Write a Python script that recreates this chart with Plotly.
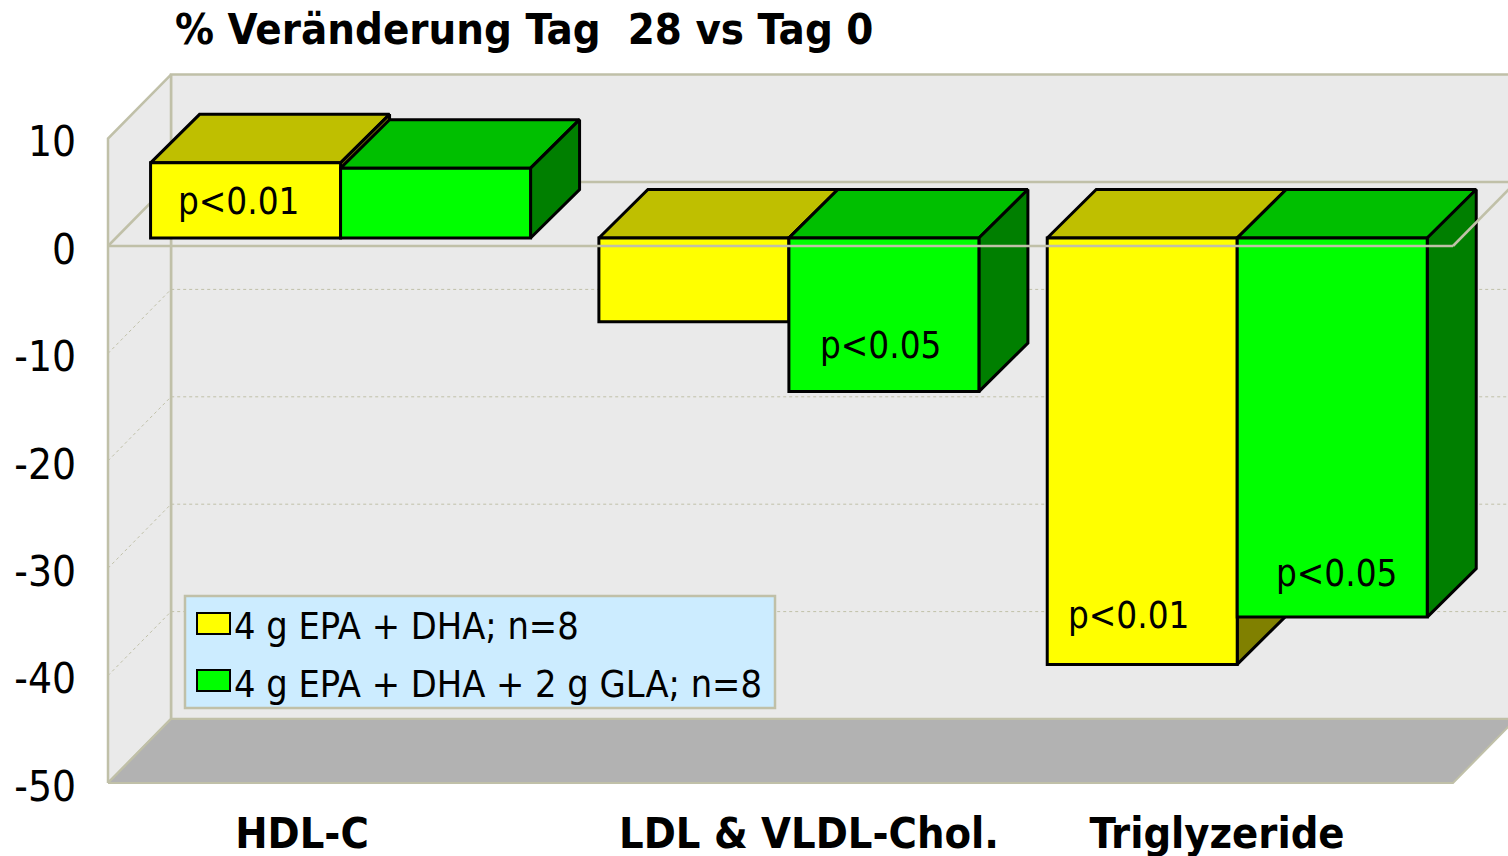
import plotly.graph_objects as go

# Values
categories = ["HDL-C", "LDL & VLDL-Chol.", "Triglyzeride"]
series_names = ["4 g EPA + DHA; n=8", "4 g EPA + DHA + 2 g GLA; n=8"]
epa_dha = [7.0, -7.8, -39.7]
epa_dha_gla = [6.5, -14.3, -35.3]
y_ticks = [10, 0, -10, -20, -30, -40, -50]
grid_values = [-10, -20, -30, -40]
p_texts = ["p<0.01", "p<0.05", "p<0.01", "p<0.05"]

FONT = "DejaVu Sans Condensed"
FRONT = ["#FFFF00", "#00FF00"]
TOP = ["#BFBF00", "#00BF00"]
SIDE = ["#808000", "#007F00"]
WALL = "#EAEAEA"
FLOOR = "#B2B2B2"
EDGE = "#C0C0A8"

# Scale of the chart in the 1508x856 page
PX_CAT = 1345 / 3
PX_UNIT = 537 / 50
LEFT, RIGHT, TOP_PX, BOTTOM = 100, 1508, 68, 790


def data_x(px):
    return (px - 108) / PX_CAT - 0.5


def data_y(py):
    return -50 + (783 - py) / PX_UNIT


x_range = [data_x(LEFT), data_x(RIGHT)]
y_range = [data_y(BOTTOM), data_y(TOP_PX)]

# Box of the chart, and how far the back wall and the bars are pushed in
x0, x1 = -0.5, 2.5
back_x, back_y = 63 / PX_CAT, 64 / PX_UNIT
gap_x, gap_y = 8.4 / PX_CAT, 8 / PX_UNIT
depth_x, depth_y = 49 / PX_CAT, 48.5 / PX_UNIT
bar_width = 190 / PX_CAT
label_drop = 3 / PX_UNIT  # tick labels sit slightly under their grid lines

fig = go.Figure()


def wall(xs, ys, fill, width=2.5):
    fig.add_trace(go.Scatter(x=xs, y=ys, mode="lines", fill="toself", fillcolor=fill,
                             line=dict(color=EDGE, width=width), hoverinfo="skip", showlegend=False))


# Back wall, left wall, floor
wall([x0 + back_x, x1 + back_x, x1 + back_x, x0 + back_x, x0 + back_x],
     [-50 + back_y, -50 + back_y, 10 + back_y, 10 + back_y, -50 + back_y], WALL)
wall([x0, x0 + back_x, x0 + back_x, x0, x0],
     [-50, -50 + back_y, 10 + back_y, 10, -50], WALL)
wall([x0, x1, x1 + back_x, x0 + back_x, x0],
     [-50, -50, -50 + back_y, -50 + back_y, -50], FLOOR, 2)

# Dotted grid on the walls
for v in grid_values:
    fig.add_trace(go.Scatter(x=[x0, x0 + back_x, x1 + back_x], y=[v, v + back_y, v + back_y],
                             mode="lines", line=dict(color=EDGE, width=1, dash="dot"),
                             hoverinfo="skip", showlegend=False))

# Back part of the zero plane, behind the bars
fig.add_trace(go.Scatter(x=[x0, x0 + back_x, x1 + back_x], y=[0, back_y, back_y],
                         mode="lines", line=dict(color=EDGE, width=2.5),
                         hoverinfo="skip", showlegend=False))

# Empty trace that keeps the tick label axis alive
fig.add_trace(go.Scatter(x=[None], y=[None], yaxis="y4", hoverinfo="skip", showlegend=False))

# Top and side faces of the bars, yellow first so that green overlaps it
for k, values in enumerate([epa_dha, epa_dha_gla]):
    top_x, top_y, side_x, side_y = [], [], [], []
    for i, v in enumerate(values):
        xl = i + (k - 1) * bar_width
        xr = xl + bar_width
        hi, lo = max(v, 0), min(v, 0)
        top_x += [xl, xr, xr + depth_x, xl + depth_x, xl, None]
        top_y += [hi, hi, hi + depth_y, hi + depth_y, hi, None]
        side_x += [xr, xr + depth_x, xr + depth_x, xr, xr, None]
        side_y += [hi, hi + depth_y, lo + depth_y, lo, hi, None]
    for xs, ys, col in [(top_x, top_y, TOP[k]), (side_x, side_y, SIDE[k])]:
        fig.add_trace(go.Scatter(x=xs, y=ys, xaxis="x2", yaxis="y2", mode="lines", fill="toself",
                                 fillcolor=col, line=dict(color="black", width=3),
                                 hoverinfo="skip", showlegend=False))

# Front faces
for k, values in enumerate([epa_dha, epa_dha_gla]):
    fig.add_trace(go.Bar(x=[0, 1, 2], y=values, name=series_names[k], xaxis="x3", yaxis="y3",
                         marker=dict(color=FRONT[k], line=dict(color="black", width=3)),
                         showlegend=False))

# Front edge of the zero plane runs over the bars
shapes = [
    dict(type="line", xref="x", yref="y", layer="above", x0=x0, x1=x1, y0=0, y1=0,
         line=dict(color=EDGE, width=2.5)),
    dict(type="line", xref="x", yref="y", layer="above", x0=x1, x1=x1 + back_x, y0=0, y1=back_y,
         line=dict(color=EDGE, width=2.5)),
    # legend box and swatches
    dict(type="rect", xref="x", yref="y", layer="above", x0=data_x(185), x1=data_x(775),
         y0=data_y(708), y1=data_y(596), fillcolor="#CCECFF", line=dict(color=EDGE, width=2.5)),
    dict(type="rect", xref="x", yref="y", layer="above", x0=data_x(197), x1=data_x(230),
         y0=data_y(634), y1=data_y(613), fillcolor=FRONT[0], line=dict(color="black", width=2)),
    dict(type="rect", xref="x", yref="y", layer="above", x0=data_x(197), x1=data_x(230),
         y0=data_y(691), y1=data_y(670), fillcolor=FRONT[1], line=dict(color="black", width=2)),
]

annotations = []
for text, px, py in zip(p_texts, [238, 880, 1128, 1336], [201, 345, 615, 573]):
    annotations.append(dict(text=text, xref="x", yref="y", x=data_x(px), y=data_y(py),
                            showarrow=False, font=dict(family=FONT, size=36.5, color="black")))
for name, py in zip(series_names, [626, 684]):
    annotations.append(dict(text=name, xref="x", yref="y", x=data_x(232), y=data_y(py),
                            xanchor="left", showarrow=False,
                            font=dict(family=FONT, size=37.6, color="black")))

fig.update_layout(
    width=1508,
    height=856,
    margin=dict(l=LEFT, r=0, t=TOP_PX, b=856 - BOTTOM, autoexpand=False),
    paper_bgcolor="white",
    plot_bgcolor="white",
    showlegend=False,
    barmode="group",
    bargap=1 - 2 * bar_width,
    bargroupgap=0,
    shapes=shapes,
    annotations=annotations,
    title=dict(text="% Veränderung Tag \u00a028 vs Tag 0", x=175 / 1508, xanchor="left", xref="container",
               y=1 - 29 / 856, yanchor="middle", font=dict(family=FONT, size=43.3, color="black", weight="bold")),
    xaxis=dict(range=x_range, showgrid=False, zeroline=False, ticks="", ticklen=0,
               tickmode="array", tickvals=[data_x(302), data_x(809), data_x(1217)], ticktext=categories,
               tickfont=dict(family=FONT, size=43, color="black", weight="bold"), ticklabelstandoff=14),
    yaxis=dict(range=y_range, showgrid=False, zeroline=False, showticklabels=False, ticks=""),
    yaxis4=dict(range=[y_range[0] + label_drop, y_range[1] + label_drop], overlaying="y", anchor="x",
                showgrid=False, zeroline=False, ticks="", ticklen=0,
                tickmode="array", tickvals=y_ticks, ticktext=[str(t) for t in y_ticks],
                tickfont=dict(family=FONT, size=42, color="black"), ticklabelstandoff=23),
    xaxis2=dict(range=[x_range[0] - gap_x, x_range[1] - gap_x], overlaying="x", anchor="y2", visible=False),
    yaxis2=dict(range=[y_range[0] - gap_y, y_range[1] - gap_y], overlaying="y", anchor="x2", visible=False),
    xaxis3=dict(range=[x_range[0] - gap_x, x_range[1] - gap_x], overlaying="x", anchor="y3", visible=False),
    yaxis3=dict(range=[y_range[0] - gap_y, y_range[1] - gap_y], overlaying="y", anchor="x3", visible=False),
)

# the default page has an 8px body margin, which would shift and crop the 1508x856 chart
fig.write_html("out.html", config={"displayModeBar": False},
               post_script="document.body.style.margin='0';document.body.style.overflow='hidden';")
